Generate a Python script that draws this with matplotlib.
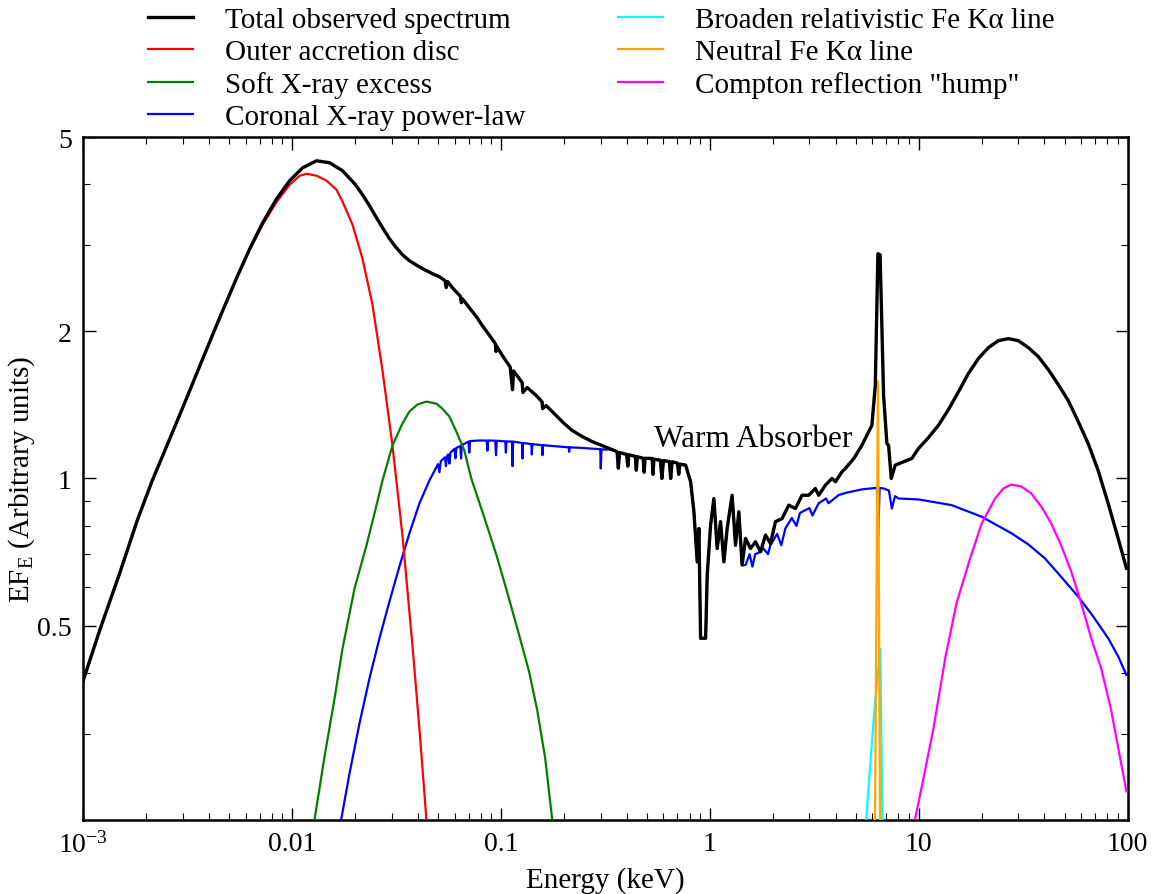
import matplotlib
matplotlib.use('Agg')
import matplotlib.pyplot as plt
from matplotlib.ticker import FixedLocator, FixedFormatter, NullFormatter

# Fonts: Times-like serif everywhere
plt.rcParams['font.family'] = ['Liberation Serif', 'DejaVu Serif']
plt.rcParams['mathtext.fontset'] = 'custom'
plt.rcParams['mathtext.rm'] = 'Liberation Serif'
plt.rcParams['mathtext.it'] = 'Liberation Serif:italic'
plt.rcParams['font.size'] = 20

# ---- data (energy in keV, EF_E arbitrary units) ----

# warm absorber region, shared by total spectrum and power-law (they overlap there)
wa_energy = [0.3406, 0.36, 0.365, 0.37, 0.40, 0.405, 0.41, 0.44, 0.445, 0.45, 0.48, 0.485, 0.49,
             0.53, 0.535, 0.54, 0.58, 0.59, 0.60, 0.64, 0.65, 0.66, 0.70, 0.71, 0.72, 0.7663,
             0.8095, 0.8395, 0.8706, 0.887, 0.9036, 0.9554, 0.9718, 1.009, 1.046, 1.085, 1.126,
             1.168, 1.211, 1.279, 1.328, 1.377, 1.428]
wa_flux = [1.146, 1.135, 1.05, 1.13, 1.12, 1.06, 1.118, 1.11, 1.04, 1.108, 1.10, 1.03, 1.10,
           1.099, 1.02, 1.095, 1.09, 1.00, 1.088, 1.083, 1.00, 1.082, 1.075, 1.02, 1.07, 1.065,
           0.985, 0.855, 0.675, 0.790, 0.471, 0.471, 0.634, 0.803, 0.910, 0.719, 0.816,
           0.675, 0.790, 0.924, 0.730, 0.855, 0.665]

total_energy_lo = [0.001, 0.001206, 0.001502, 0.001811, 0.002136, 0.002604, 0.003140, 0.003744,
                   0.004514, 0.005443, 0.006280, 0.007244, 0.008452, 0.009750, 0.01125, 0.01312,
                   0.01514, 0.01747, 0.02015, 0.02176, 0.02351, 0.02539, 0.02713, 0.02930,
                   0.03130, 0.03380, 0.03650, 0.03986, 0.04305, 0.04701, 0.05077, 0.0540,
                   0.0548, 0.0556, 0.05859, 0.0640, 0.0647, 0.06540, 0.07063, 0.07627, 0.08151,
                   0.08802, 0.0940, 0.0948, 0.09507, 0.1015, 0.1109, 0.1137, 0.1150, 0.1224,
                   0.1265, 0.1275, 0.1337, 0.1476, 0.1575, 0.1585, 0.1648, 0.1840, 0.2009,
                   0.2194, 0.2449, 0.2734, 0.3051]
total_flux_lo = [0.385, 0.491, 0.642, 0.817, 0.986, 1.207, 1.464, 1.760,
                 2.135, 2.577, 2.953, 3.338, 3.738, 4.069, 4.325, 4.470,
                 4.429, 4.265, 3.993, 3.809, 3.617, 3.418, 3.262, 3.096,
                 2.982, 2.871, 2.791, 2.726, 2.676, 2.626, 2.589, 2.54,
                 2.46, 2.53, 2.458, 2.36, 2.29, 2.334, 2.237, 2.145, 2.056,
                 1.964, 1.89, 1.82, 1.871, 1.787, 1.69, 1.52, 1.66, 1.602,
                 1.57, 1.50, 1.535, 1.479, 1.435, 1.39, 1.410, 1.345, 1.296,
                 1.254, 1.219, 1.190, 1.168]
total_energy_hi = [1.483, 1.566, 1.655, 1.749, 1.848, 1.952, 2.063, 2.218, 2.388, 2.57, 2.764,
                   2.974, 3.202, 3.321, 3.574, 3.845, 3.997, 4.292, 4.454, 4.9, 5.349, 5.970,
                   6.197, 6.378, 6.534, 6.790, 7.041, 7.174, 7.389, 7.721, 9.268, 9.977,
                   11.14, 12.43, 13.88, 15.49, 17.29, 19.31, 21.56, 24.07, 26.87, 29.99,
                   33.47, 37.36, 41.71, 46.56, 51.96, 58.01, 64.75, 72.28, 80.69, 90.08, 98.7]
total_flux_hi = [0.754, 0.719, 0.742, 0.708, 0.766, 0.736, 0.816, 0.828, 0.882, 0.868, 0.924,
                 0.924, 0.954, 0.924, 0.969, 1.0, 0.985, 1.032, 1.048, 1.10, 1.170, 1.285,
                 1.552, 2.885, 2.87, 1.481, 1.179, 1.170, 1.0, 1.065, 1.099, 1.152,
                 1.213, 1.285, 1.384, 1.504, 1.640, 1.760, 1.853, 1.915, 1.933, 1.915,
                 1.853, 1.776, 1.671, 1.557, 1.444, 1.308, 1.179, 1.038, 0.889, 0.754, 0.655]

disc_energy = [0.001, 0.001206, 0.001502, 0.001811, 0.002136, 0.002604, 0.003140, 0.003744,
               0.004514, 0.005443, 0.006280, 0.007244, 0.008452, 0.009750, 0.01089, 0.01176,
               0.01312, 0.01465, 0.01635, 0.01747, 0.01950, 0.02176, 0.02429, 0.02713,
               0.03028, 0.03380, 0.03773, 0.04074, 0.04401]
disc_flux = [0.385, 0.491, 0.642, 0.817, 0.986, 1.207, 1.464, 1.760,
             2.135, 2.577, 2.940, 3.307, 3.686, 3.993, 4.166, 4.205,
             4.166, 4.069, 3.899, 3.686, 3.307, 2.818, 2.269, 1.663,
             1.168, 0.765, 0.456, 0.308, 0.2008]

soft_energy = [0.01284, 0.01433, 0.01600, 0.01747, 0.01994, 0.02274, 0.02484, 0.02713, 0.03028,
               0.03380, 0.03650, 0.03986, 0.04401, 0.04912, 0.05248, 0.05668, 0.06122, 0.06687,
               0.07219, 0.08241, 0.09507, 0.1073, 0.1224, 0.1367, 0.1493, 0.1630, 0.1760]
soft_flux = [0.2008, 0.2701, 0.3549, 0.4492, 0.5957, 0.7294, 0.848, 0.9906, 1.168,
             1.296, 1.371, 1.417, 1.437, 1.423, 1.390, 1.339, 1.248, 1.141,
             1.0, 0.844, 0.699, 0.5846, 0.4776, 0.4012, 0.3354, 0.2676, 0.2008]

pl_energy_lo = [0.01722, 0.01887, 0.02106, 0.02351, 0.02624, 0.02930, 0.03270, 0.03650, 0.04074,
                0.04549, 0.0500, 0.0508, 0.0516, 0.0540, 0.0546, 0.0552, 0.0560, 0.0567,
                0.0574, 0.0600, 0.0606, 0.0612, 0.0640, 0.0645, 0.0650, 0.0700, 0.0706,
                0.0712, 0.07884, 0.0855, 0.0862, 0.0869, 0.0940, 0.0948, 0.0956, 0.1019,
                0.1050, 0.1057, 0.1064, 0.1130, 0.1137, 0.1145, 0.1265, 0.1270, 0.1276,
                0.1400, 0.1407, 0.1414, 0.1575, 0.1582, 0.1590, 0.2115, 0.2123, 0.2131,
                0.2370, 0.2990, 0.3008, 0.3030]
pl_flux_lo = [0.2008, 0.2493, 0.3155, 0.390, 0.471, 0.5603, 0.6607, 0.772, 0.889,
              0.9906, 1.070, 1.030, 1.085, 1.105, 1.06, 1.11, 1.12, 1.073,
              1.13, 1.15, 1.10, 1.155, 1.165, 1.099, 1.17, 1.19, 1.13,
              1.193, 1.196, 1.196, 1.14, 1.196, 1.195, 1.116, 1.195, 1.192,
              1.191, 1.13, 1.191, 1.19, 1.060, 1.19, 1.182, 1.099, 1.182,
              1.176, 1.12, 1.176, 1.170, 1.116, 1.170, 1.158, 1.134, 1.158,
              1.156, 1.148, 1.048, 1.147]
pl_energy_hi = [1.483, 1.55, 1.60, 1.65, 1.717, 1.80, 1.90, 1.95, 2.1, 2.2, 2.3, 2.468, 2.6,
                2.7, 3.0, 3.1, 3.321, 3.6, 3.7, 4.139, 4.5, 5.349, 6.308, 6.40, 6.50, 6.790,
                7.2, 7.438, 7.7, 8.009, 9.977, 14.39, 20.03, 27.86, 33.47, 40.22, 46.56,
                58.01, 68.42, 80.69, 90.08, 98.7]
pl_flux_hi = [0.665, 0.70, 0.66, 0.70, 0.705, 0.72, 0.70, 0.73, 0.77, 0.73, 0.79, 0.83, 0.80,
              0.85, 0.87, 0.84, 0.890, 0.91, 0.89, 0.925, 0.935, 0.950, 0.957, 0.761, 0.957,
              0.954, 0.945, 0.868, 0.92, 0.910, 0.906, 0.882, 0.835, 0.772, 0.733, 0.686,
              0.639, 0.573, 0.522, 0.471, 0.4325, 0.396]

broad_energy = [5.55, 6.13, 6.55, 6.71]
broad_flux = [0.19, 0.334, 0.449, 0.19]

narrow_energy = [6.15, 6.38, 6.55]
narrow_flux = [0.15, 1.58, 0.15]

hump_energy = [9.623, 10.54, 11.77, 13.39, 15.16, 17.62, 20.03, 23.20, 25.42, 27.77, 30.98,
               34.58, 38.61, 43.10, 48.12, 53.70, 59.96, 66.93, 74.71, 83.40, 98.7]
hump_flux = [0.2014, 0.2434, 0.308, 0.4285, 0.555, 0.686, 0.809, 0.910, 0.954, 0.972, 0.963,
             0.932, 0.876, 0.809, 0.729, 0.645, 0.555, 0.471, 0.4088, 0.3354, 0.2289]

xtick_values = [1e-3, 1e-2, 1e-1, 1, 10, 100]
xtick_labels = [r'$10^{-3}$', '0.01', '0.1', '1', '10', '100']
ytick_values = [0.5, 1, 2, 5]
ytick_labels = ['0.5', '1', '2', '5']

# assemble the full curves
total_energy = total_energy_lo + wa_energy + total_energy_hi
total_flux = total_flux_lo + wa_flux + total_flux_hi
pl_energy = pl_energy_lo + wa_energy + pl_energy_hi
pl_flux = pl_flux_lo + wa_flux + pl_flux_hi

fig = plt.figure(figsize=(11.53, 8.95), dpi=100)
ax = fig.add_axes([0.072, 0.0827, 0.906, 0.7631])

lw = 1.6
ax.plot(pl_energy, pl_flux, color='blue', lw=lw, label='Coronal X-ray power-law', zorder=3)
ax.plot(disc_energy, disc_flux, color='red', lw=lw, label='Outer accretion disc', zorder=3)
ax.plot(soft_energy, soft_flux, color='green', lw=lw, label='Soft X-ray excess', zorder=3)
ax.plot(hump_energy, hump_flux, color='magenta', lw=lw, label='Compton reflection "hump"', zorder=3)
ax.plot(broad_energy, broad_flux, color='cyan', lw=lw, label='Broaden relativistic Fe Kα line', zorder=3)
ax.plot(narrow_energy, narrow_flux, color='orange', lw=lw, label='Neutral Fe Kα line', zorder=3)
ax.plot(total_energy, total_flux, color='black', lw=2.4, label='Total observed spectrum', zorder=4)

ax.set_xscale('log')
ax.set_yscale('log')
ax.set_xlim(1e-3, 100)
ax.set_ylim(0.2, 5)

ax.xaxis.set_major_locator(FixedLocator(xtick_values))
ax.xaxis.set_major_formatter(FixedFormatter(xtick_labels))
ax.yaxis.set_major_locator(FixedLocator(ytick_values))
ax.yaxis.set_major_formatter(FixedFormatter(ytick_labels))
ax.yaxis.set_minor_locator(FixedLocator([0.3, 0.4, 0.6, 0.7, 0.8, 0.9, 3, 4]))
ax.xaxis.set_minor_formatter(NullFormatter())
ax.yaxis.set_minor_formatter(NullFormatter())

ax.tick_params(which='both', direction='in', top=True, right=True, labelsize=20)
ax.tick_params(which='major', length=9, width=1.0, pad=8)
ax.tick_params(which='minor', length=5, width=0.8)
for sp in ax.spines.values():
    sp.set_linewidth(1.8)

ax.set_xlabel('Energy (keV)', fontsize=21, labelpad=6)
ax.set_ylabel(r'EF$_\mathrm{E}$ (Arbitrary units)', fontsize=21, labelpad=0)

ax.text(0.54, 1.168, 'Warm Absorber', fontsize=22.5, ha='left', va='baseline')

# legend in the same order as the reference (two columns above the axes)
handles, labels = ax.get_legend_handles_labels()
order = ['Total observed spectrum', 'Outer accretion disc', 'Soft X-ray excess',
         'Coronal X-ray power-law', 'Broaden relativistic Fe Kα line',
         'Neutral Fe Kα line', 'Compton reflection "hump"']
lookup = dict(zip(labels, handles))
leg = fig.legend([lookup[k] for k in order], order, ncol=2, loc='upper left',
                 bbox_to_anchor=(148 / 1153, 1 - 8 / 895), frameon=False, fontsize=21,
                 handlelength=1.55, handletextpad=1.1, columnspacing=3.15, labelspacing=0.19,
                 borderpad=0, borderaxespad=0)

fig.savefig('out.png', dpi=100)
